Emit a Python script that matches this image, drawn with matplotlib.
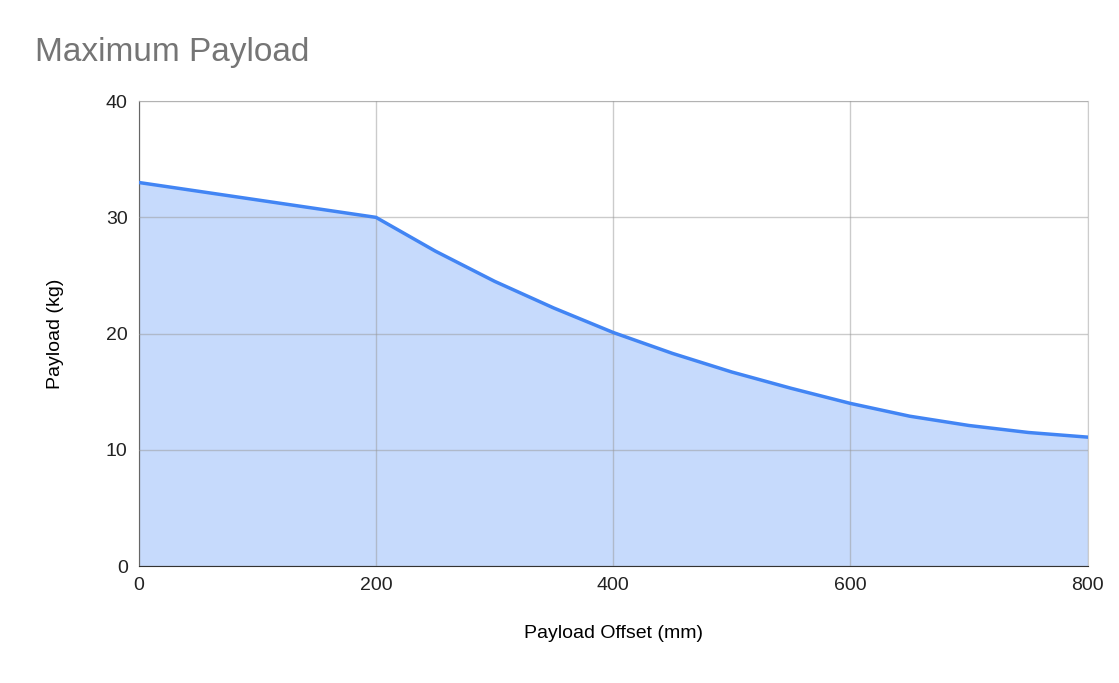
import matplotlib.pyplot as plt

plt.rcParams['font.family'] = ['Liberation Sans', 'DejaVu Sans']

offset_mm = [0, 200, 250, 300, 350, 400, 450, 500, 550, 600, 650, 700, 750, 800]
payload_kg = [33, 30, 27.1, 24.5, 22.2, 20.1, 18.3, 16.7, 15.3, 14.0, 12.9, 12.1, 11.5, 11.1]

fig = plt.figure(figsize=(11.19, 6.83), dpi=100)
ax = fig.add_axes([0.124, 0.171, 0.848, 0.681])

ax.fill_between(offset_mm, payload_kg, 0, color='#c6dafc', zorder=1)
ax.plot(offset_mm, payload_kg, color='#4285f4', lw=2.5, zorder=3)

ax.set_xlim(0, 800)
ax.set_ylim(0, 40)
ax.set_xticks([0, 200, 400, 600, 800])
ax.set_yticks([0, 10, 20, 30, 40])
ax.set_axisbelow(False)
ax.grid(True, color='#999999', alpha=0.5, lw=1, zorder=2)
for s in ['top', 'right']:
    ax.spines[s].set_color('#cccccc')
ax.spines['left'].set_color('#333333')
ax.spines['bottom'].set_color('#333333')
ax.tick_params(length=0, labelsize=14, colors='#222222', pad=8)

ax.set_xlabel('Payload Offset (mm)', fontsize=14, labelpad=22)
ax.set_ylabel('Payload (kg)', fontsize=14, labelpad=30)
fig.text(0.031, 0.91, 'Maximum Payload', fontsize=24, color='#757575')

fig.savefig('out.png', dpi=100)
